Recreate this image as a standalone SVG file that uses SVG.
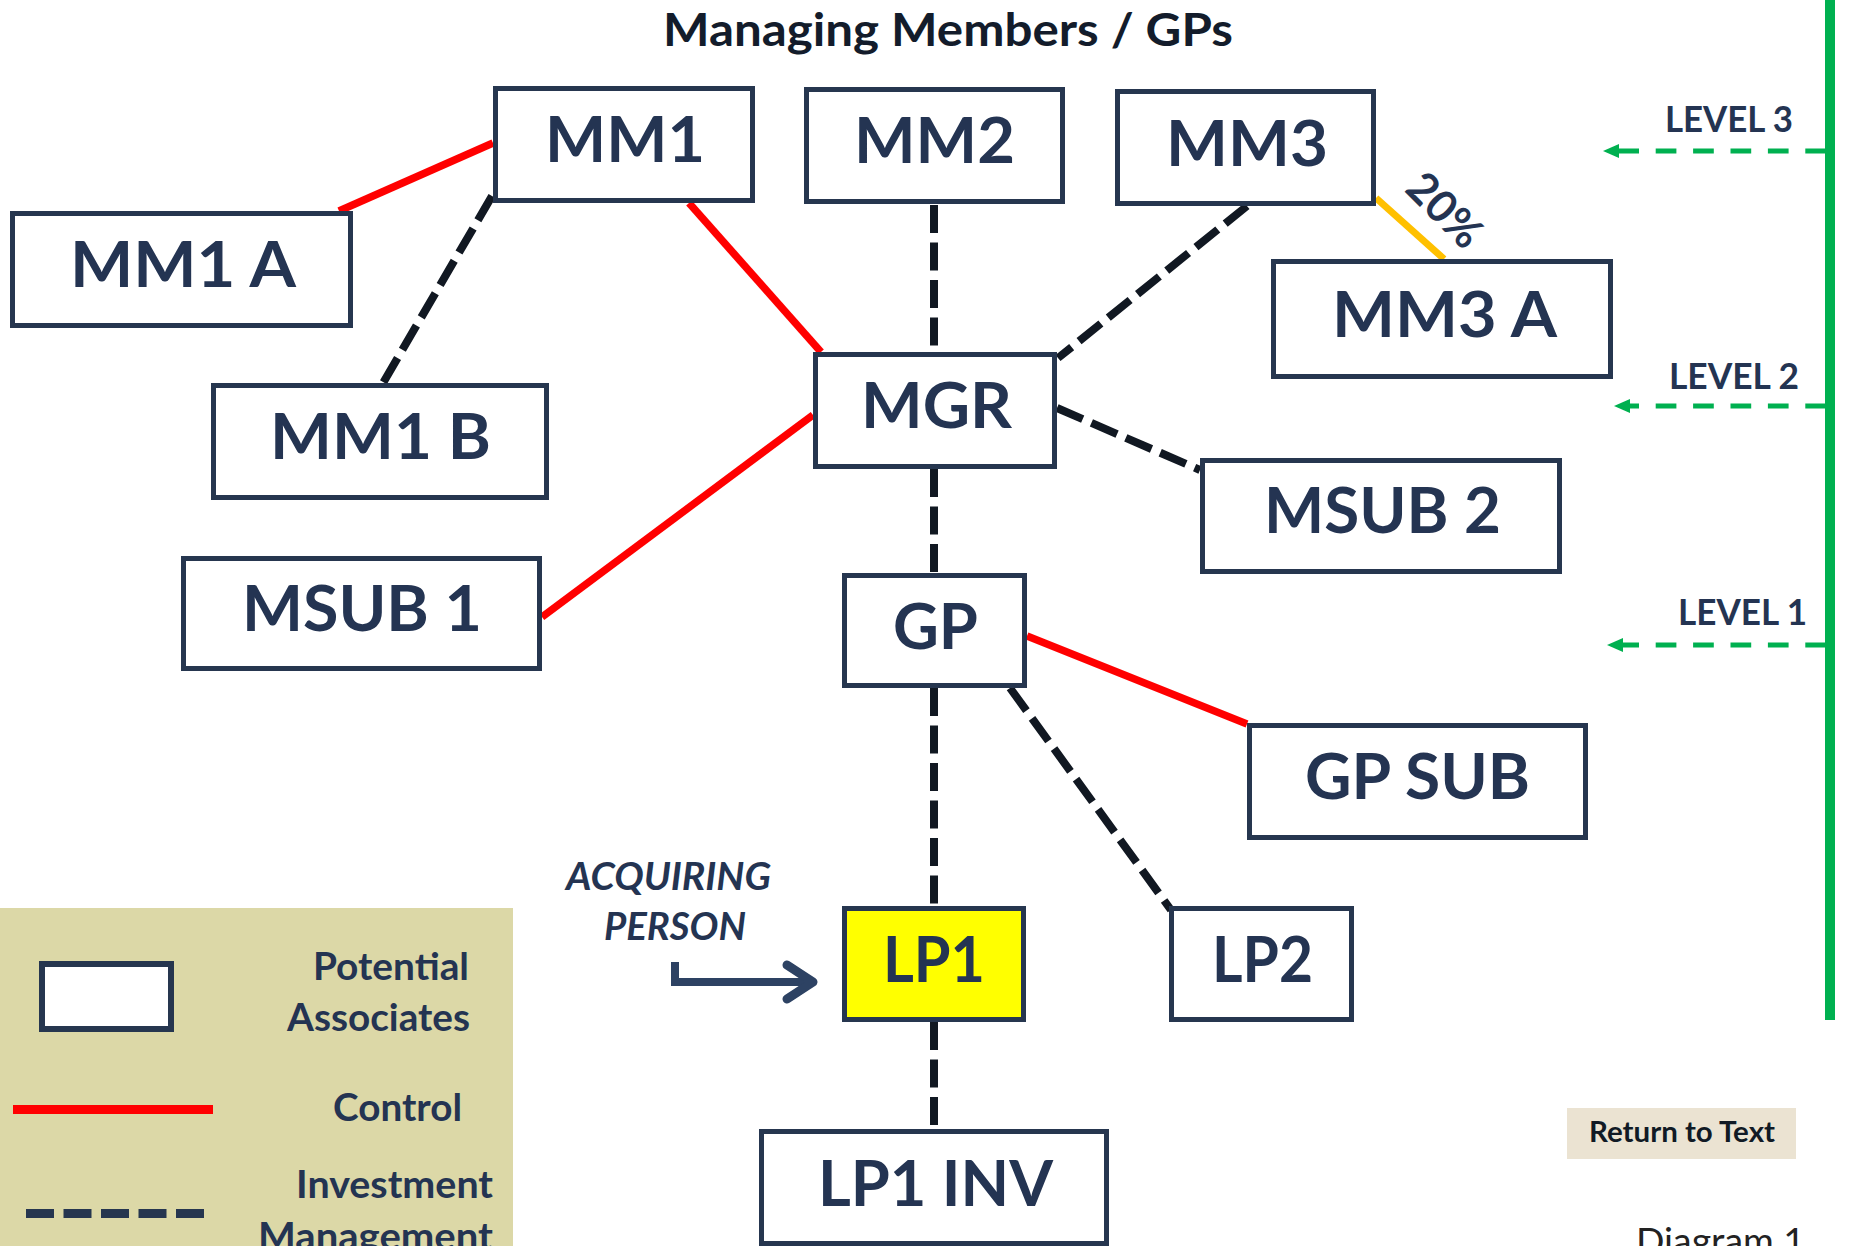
<svg xmlns="http://www.w3.org/2000/svg" width="1856" height="1246" viewBox="0 0 1856 1246">
  <defs>
    <style>
      .box { fill: #ffffff; stroke: #26364f; stroke-width: 5; }
      .lp1 { fill: #ffff00; }
      .lbl { font-family: Lato, "Open Sans", "Liberation Sans", sans-serif; font-weight: 700; fill: #243452; }
      .big { font-size: 64px; text-anchor: middle; }
      .ctrl { stroke: #ff0000; stroke-width: 7.5; fill: none; }
      .inv { stroke: #111822; stroke-width: 8; stroke-dasharray: 28 9.5; fill: none; }
      .own { stroke: #ffc000; stroke-width: 7; fill: none; }
      .lvl { stroke: #00b050; stroke-width: 5; stroke-dasharray: 20.7 16.7; fill: none; }
      .lvltxt { font-size: 37px; }
      .leg { font-size: 38px; }
    </style>
    <marker id="greenHead" viewBox="0 0 16 14" refX="0" refY="7" markerWidth="16" markerHeight="14" markerUnits="userSpaceOnUse" orient="auto">
      <path d="M0,0 L16,7 L0,14 Z" fill="#00b050"/>
    </marker>
  </defs>

  <rect width="1856" height="1246" fill="#ffffff"/>

  <!-- heading -->
  <text class="lbl" x="663" y="46" font-size="46" style="fill:#131c2b" textLength="570" lengthAdjust="spacingAndGlyphs">Managing Members / GPs</text>

  <!-- legend panel -->
  <g id="legend">
    <rect x="0" y="908" width="513" height="338" fill="#dcd8a7"/>
    <rect x="42" y="964" width="129" height="65" class="box" style="stroke-width:6"/>
    <line x1="13" y1="1109.5" x2="213" y2="1109.5" stroke="#ff0000" stroke-width="9"/>
    <line x1="26" y1="1213.5" x2="204" y2="1213.5" stroke="#26364f" stroke-width="9" stroke-dasharray="28 9.5"/>
    <text class="lbl leg" x="313" y="980" textLength="156" lengthAdjust="spacingAndGlyphs">Potential</text>
    <text class="lbl leg" x="287" y="1031" textLength="183" lengthAdjust="spacingAndGlyphs">Associates</text>
    <text class="lbl leg" x="333" y="1121" textLength="129" lengthAdjust="spacingAndGlyphs">Control</text>
    <text class="lbl leg" x="296" y="1198" textLength="197" lengthAdjust="spacingAndGlyphs">Investment</text>
    <text class="lbl leg" x="258" y="1250" textLength="235" lengthAdjust="spacingAndGlyphs">Management</text>
  </g>

  <!-- connectors -->
  <g id="connectors">
    <line class="ctrl" x1="339" y1="211" x2="493" y2="143"/>
    <line class="inv" x1="492" y1="196" x2="383" y2="383"/>
    <line class="ctrl" x1="689" y1="203" x2="821" y2="352"/>
    <line class="ctrl" x1="813" y1="415" x2="542" y2="617"/>
    <line class="inv" x1="934" y1="205" x2="934" y2="352"/>
    <line class="inv" x1="1247" y1="206" x2="1058" y2="358"/>
    <line class="own" x1="1376" y1="198" x2="1444" y2="259"/>
    <line class="inv" x1="1057" y1="408" x2="1200" y2="470"/>
    <line class="inv" x1="934" y1="469" x2="934" y2="573"/>
    <line class="ctrl" x1="1027" y1="636" x2="1247" y2="724"/>
    <line class="inv" x1="1010" y1="688" x2="1171" y2="910"/>
    <line class="inv" x1="934" y1="688" x2="934" y2="906"/>
    <line class="inv" x1="934" y1="1022" x2="934" y2="1129"/>
  </g>

  <text class="lbl" font-size="44" text-anchor="middle" transform="translate(1434,221) rotate(45)" textLength="86" lengthAdjust="spacingAndGlyphs">20%</text>

  <!-- nodes -->
  <g id="mm1">
    <rect class="box" x="495.5" y="88.5" width="257" height="112"/>
    <text class="lbl big" x="625" y="162" textLength="160" lengthAdjust="spacingAndGlyphs">MM1</text>
  </g>
  <g id="mm1a">
    <rect class="box" x="12.5" y="213.5" width="338" height="112"/>
    <text class="lbl big" x="183" y="287" textLength="226" lengthAdjust="spacingAndGlyphs">MM1 A</text>
  </g>
  <g id="mm1b">
    <rect class="box" x="213.5" y="385.5" width="333" height="112"/>
    <text class="lbl big" x="380.5" y="459" textLength="221" lengthAdjust="spacingAndGlyphs">MM1 B</text>
  </g>
  <g id="mm2">
    <rect class="box" x="806.5" y="89.5" width="256" height="112"/>
    <text class="lbl big" x="934.5" y="163" textLength="161" lengthAdjust="spacingAndGlyphs">MM2</text>
  </g>
  <g id="mm3">
    <rect class="box" x="1117.5" y="91.5" width="256" height="112"/>
    <text class="lbl big" x="1247" y="166" textLength="162" lengthAdjust="spacingAndGlyphs">MM3</text>
  </g>
  <g id="mm3a">
    <rect class="box" x="1273.5" y="261.5" width="337" height="115"/>
    <text class="lbl big" x="1444.5" y="337" textLength="225" lengthAdjust="spacingAndGlyphs">MM3 A</text>
  </g>
  <g id="mgr">
    <rect class="box" x="815.5" y="354.5" width="239" height="112"/>
    <text class="lbl big" x="936.5" y="428" textLength="151" lengthAdjust="spacingAndGlyphs">MGR</text>
  </g>
  <g id="msub1">
    <rect class="box" x="183.5" y="558.5" width="356" height="110"/>
    <text class="lbl big" x="362" y="631" textLength="240" lengthAdjust="spacingAndGlyphs">MSUB 1</text>
  </g>
  <g id="msub2">
    <rect class="box" x="1202.5" y="460.5" width="357" height="111"/>
    <text class="lbl big" x="1382.5" y="533" textLength="237" lengthAdjust="spacingAndGlyphs">MSUB 2</text>
  </g>
  <g id="gp">
    <rect class="box" x="844.5" y="575.5" width="180" height="110"/>
    <text class="lbl big" x="935.5" y="649" textLength="85" lengthAdjust="spacingAndGlyphs">GP</text>
  </g>
  <g id="gpsub">
    <rect class="box" x="1249.5" y="725.5" width="336" height="112"/>
    <text class="lbl big" x="1417.5" y="799" textLength="225" lengthAdjust="spacingAndGlyphs">GP SUB</text>
  </g>
  <g id="lp1">
    <rect class="box lp1" x="844.5" y="908.5" width="179" height="111"/>
    <text class="lbl big" x="934" y="982" textLength="102" lengthAdjust="spacingAndGlyphs">LP1</text>
  </g>
  <g id="lp2">
    <rect class="box" x="1171.5" y="908.5" width="180" height="111"/>
    <text class="lbl big" x="1262.5" y="982" textLength="101" lengthAdjust="spacingAndGlyphs">LP2</text>
  </g>
  <g id="lp1inv">
    <rect class="box" x="761.5" y="1131.5" width="345" height="112"/>
    <text class="lbl big" x="935.5" y="1206" textLength="235" lengthAdjust="spacingAndGlyphs">LP1 INV</text>
  </g>

  <!-- acquiring person pointer -->
  <g id="acquiring">
    <text class="lbl" font-size="39" font-style="italic" x="566" y="890" textLength="205" lengthAdjust="spacingAndGlyphs">ACQUIRING</text>
    <text class="lbl" font-size="39" font-style="italic" x="604" y="940" textLength="142" lengthAdjust="spacingAndGlyphs">PERSON</text>
    <path d="M675,962 V982 H810" fill="none" stroke="#2d4263" stroke-width="8"/>
    <path d="M787,965 L813,982 L787,999" fill="none" stroke="#2d4263" stroke-width="9" stroke-linecap="round" stroke-linejoin="round"/>
  </g>

  <!-- level scale -->
  <g id="levels">
    <line x1="1830" y1="0" x2="1830" y2="1020" stroke="#00b050" stroke-width="10"/>
    <path class="lvl" d="M1826,151 H1619" marker-end="url(#greenHead)"/>
    <path class="lvl" d="M1826,406 H1630" marker-end="url(#greenHead)"/>
    <path class="lvl" d="M1826,645 H1623" marker-end="url(#greenHead)"/>
    <text class="lbl lvltxt" x="1665" y="132" textLength="128" lengthAdjust="spacingAndGlyphs">LEVEL 3</text>
    <text class="lbl lvltxt" x="1669" y="389" textLength="130" lengthAdjust="spacingAndGlyphs">LEVEL 2</text>
    <text class="lbl lvltxt" x="1678" y="625" textLength="129" lengthAdjust="spacingAndGlyphs">LEVEL 1</text>
  </g>

  <!-- footer -->
  <g id="return">
    <rect x="1567" y="1108" width="229" height="51" fill="#ebe3d2"/>
    <text class="lbl" font-size="29" x="1589" y="1142" style="fill:#111a25" textLength="186" lengthAdjust="spacingAndGlyphs">Return to Text</text>
  </g>
  <text x="1636" y="1254" font-family="Lato, 'Open Sans', 'Liberation Sans', sans-serif" font-size="36" fill="#222222" textLength="169" lengthAdjust="spacingAndGlyphs">Diagram 1</text>
</svg>
